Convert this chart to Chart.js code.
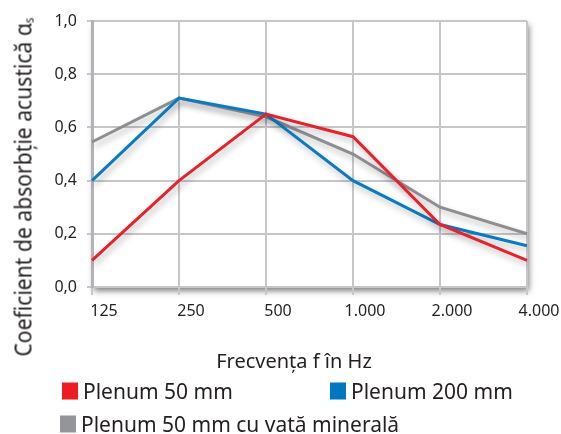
<!DOCTYPE html>
<html>
<head>
<meta charset="utf-8">
<script src="https://cdn.jsdelivr.net/npm/chart.js@4/dist/chart.umd.min.js"></script>
<style>
  html, body { margin: 0; padding: 0; background: #ffffff; }
  #wrap { position: relative; width: 561px; height: 434px; overflow: hidden; font-family: "Noto Sans", sans-serif; color: #231f20; }
  #c { position: absolute; left: 0; top: 0; }
  .ytitle { position: absolute; left: 23px; top: 187px; font-size: 24px; line-height: 1; white-space: nowrap;
            transform: translate(-50%, -50%) rotate(-90deg) scaleX(0.88); }
  .ytitle sub { font-size: 13px; vertical-align: -2px; }
  .xtitle { position: absolute; left: 294px; top: 361px; font-size: 20px; line-height: 1; white-space: nowrap;
            transform: translate(-50%, -50%); }
  .leg { position: absolute; font-size: 21px; line-height: 1; white-space: nowrap; display: flex; align-items: center; transform: translateY(-50%); }
  .leg i { display: inline-block; width: 16px; height: 17px; margin-right: 5px; }
</style>
</head>
<body>
<div id="wrap">
  <canvas id="c" width="561" height="434"></canvas>
  <div class="ytitle">Coeficient de absorbție acustică α<sub>s</sub></div>
  <div class="xtitle">Frecvența f în Hz</div>
  <div class="leg" style="left:62px; top:391px;"><i style="background:#ed1c24"></i>Plenum 50 mm</div>
  <div class="leg" style="left:330px; top:391px;"><i style="background:#0077c0"></i>Plenum 200 mm</div>
  <div class="leg" style="left:60px; top:424px;"><i style="background:#939598"></i>Plenum 50 mm cu vată minerală</div>
</div>
<script>
const categories = ["125", "250", "500", "1.000", "2.000", "4.000"];
const plenum50 = [0.10, 0.40, 0.65, 0.565, 0.235, 0.10];
const plenum200 = [0.40, 0.71, 0.65, 0.40, 0.235, 0.155];
const plenum50Vata = [0.545, 0.71, 0.64, 0.50, 0.30, 0.20];
const seriesNames = ["Plenum 50 mm", "Plenum 200 mm", "Plenum 50 mm cu vată minerală"];
const yTicks = [0, 0.2, 0.4, 0.6, 0.8, 1.0];

const frameShadow = {
  id: 'frameShadow',
  beforeDraw(chart) {
    const {ctx, chartArea: a} = chart;
    ctx.save();
    ctx.shadowColor = 'rgba(0,0,0,0.5)';
    ctx.shadowBlur = 6;
    ctx.shadowOffsetX = 2;
    ctx.shadowOffsetY = 4;
    ctx.fillStyle = '#ffffff';
    ctx.fillRect(a.left, a.top, a.right - a.left, a.bottom - a.top);
    ctx.restore();
  }
};
const lineShadow = {
  id: 'lineShadow',
  beforeDatasetDraw(chart) {
    const ctx = chart.ctx;
    ctx.save();
    ctx.shadowColor = 'rgba(0,0,0,0.28)';
    ctx.shadowBlur = 6;
    ctx.shadowOffsetX = 2;
    ctx.shadowOffsetY = 4;
  },
  afterDatasetDraw(chart) {
    chart.ctx.restore();
  }
};

const tickFont = { family: '"Noto Sans", sans-serif', size: 16 };

new Chart(document.getElementById('c'), {
  type: 'line',
  data: {
    labels: categories,
    datasets: [
      { label: seriesNames[0], data: plenum50, borderColor: '#e8212b', borderWidth: 3, pointRadius: 0, tension: 0, fill: false },
      { label: seriesNames[1], data: plenum200, borderColor: '#0a7bc2', borderWidth: 3, pointRadius: 0, tension: 0, fill: false },
      { label: seriesNames[2], data: plenum50Vata, borderColor: '#8e8e92', borderWidth: 3, pointRadius: 0, tension: 0, fill: false }
    ]
  },
  options: {
    responsive: false,
    animation: false,
    events: [],
    layout: { padding: { left: 0, right: 34, top: 21, bottom: 0 } },
    plugins: { legend: { display: false }, tooltip: { enabled: false }, title: { display: false } },
    scales: {
      x: {
        offset: false,
        afterFit(scale) { scale.height = 147; },
        grid: { color: '#c6c6cb', lineWidth: 2, tickLength: 8, drawTicks: true },
        border: { display: true, color: '#c6c6cb', width: 2 },
        ticks: { font: tickFont, color: '#231f20', padding: 7, labelOffset: 12, maxRotation: 0, autoSkip: false }
      },
      y: {
        min: 0, max: 1,
        afterFit(scale) { scale.width = 92; },
        afterBuildTicks(scale) { scale.ticks = yTicks.map(v => ({ value: v })); },
        grid: { color: '#c6c6cb', lineWidth: 2, tickLength: 5 },
        border: { display: true, color: '#b3b3b7', width: 3 },
        ticks: { font: tickFont, color: '#231f20', padding: 10, callback: v => v.toFixed(1).replace('.', ',') }
      }
    }
  },
  plugins: [frameShadow, lineShadow]
});
</script>
</body>
</html>
